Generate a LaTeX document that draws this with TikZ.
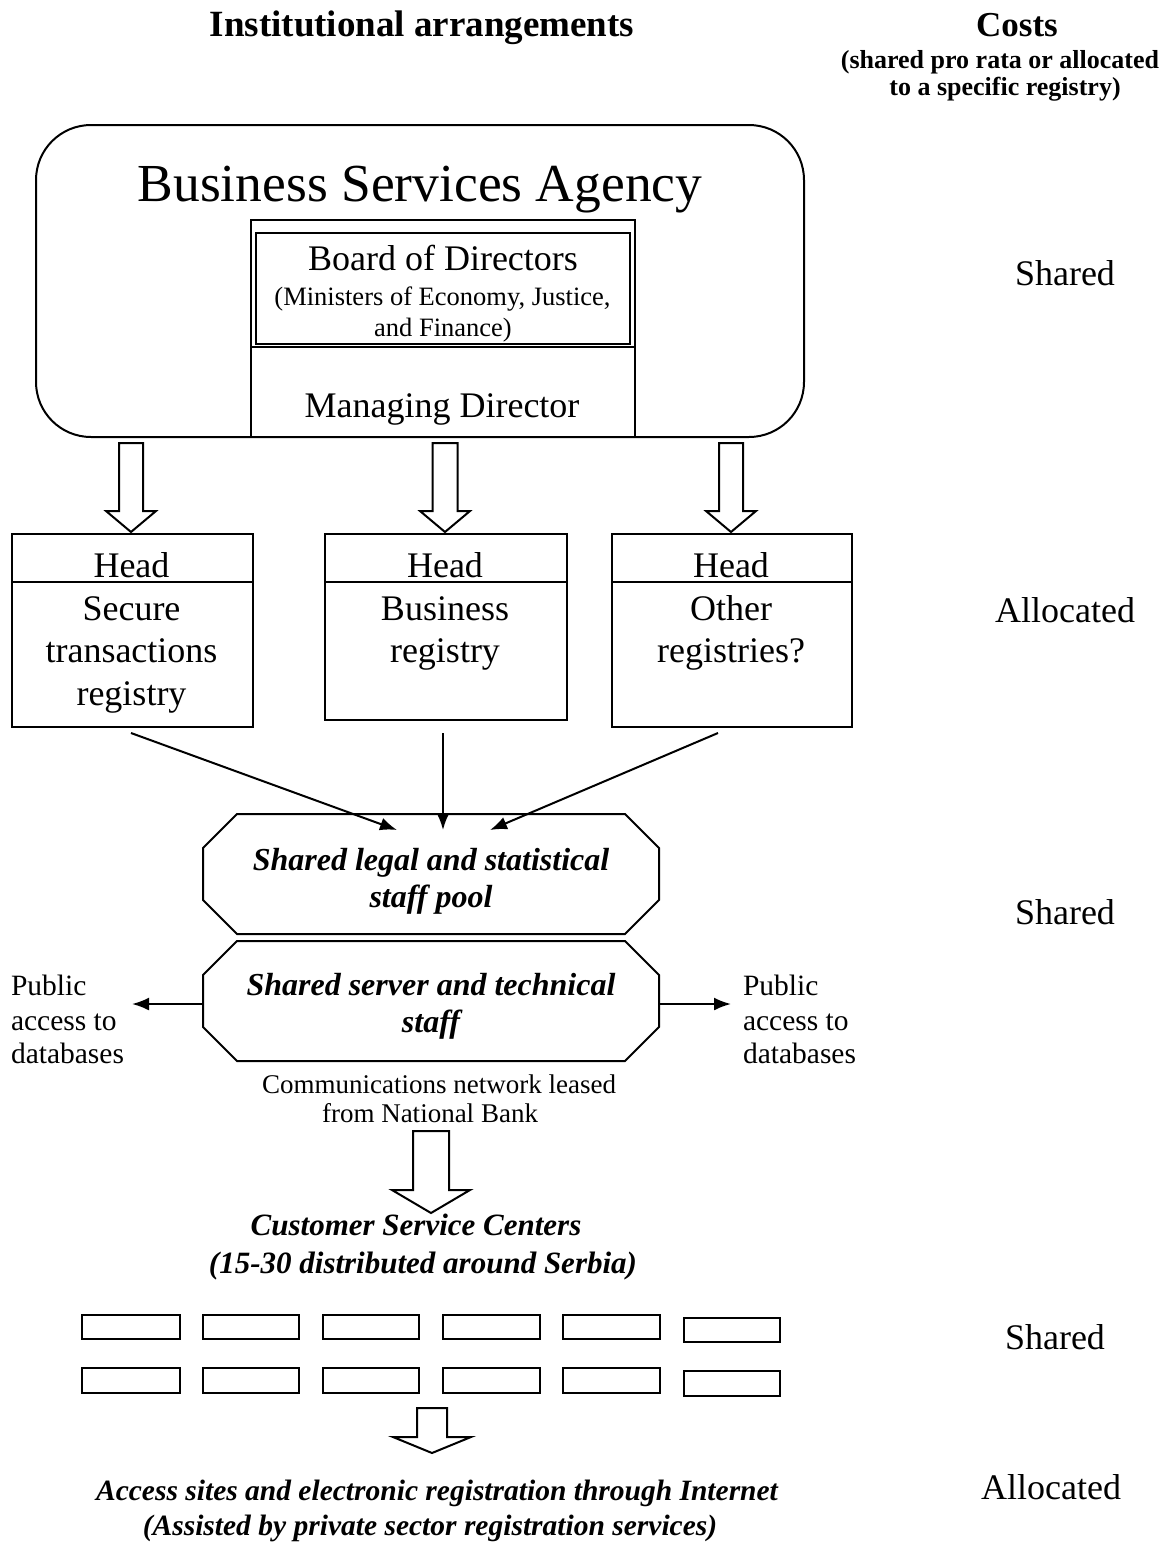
\documentclass[tikz,border=0pt]{standalone}
\usepackage{fontspec}
\setmainfont{Liberation Serif}
\usetikzlibrary{arrows.meta}
\newcommand{\fsz}[1]{\fontsize{#1}{#1}\selectfont}
\newcommand{\blockarr}[6]{% cx, shaft half, head half, top, base, tip
  \draw[blockarrow] (#1-#2,#4) -- (#1+#2,#4) -- (#1+#2,#5) -- (#1+#3,#5) -- (#1,#6) -- (#1-#3,#5) -- (#1-#2,#5) -- cycle;}
\newcommand{\octa}[5]{% x1 y1 x2 y2 cut
  \draw[line width=2pt,fill=white] (#1+#5,#2) -- (#3-#5,#2) -- (#3,#2+#5) -- (#3,#4-#5) -- (#3-#5,#4) -- (#1+#5,#4) -- (#1,#4-#5) -- (#1,#2+#5) -- cycle;}
\begin{document}
\begin{tikzpicture}[x=1pt,y=-1pt,line width=2pt,
  txt/.style={inner sep=0pt,anchor=base},
  boxline/.style={draw,line width=2pt},
  blockarrow/.style={draw,line width=2pt,fill=white,line join=miter},
  conn/.style={line width=2pt,-{Latex[length=17pt,width=13pt]}},
  costtxt/.style={txt,font=\fsz{36}},
  boxtxt/.style={txt,font=\fsz{36}},
  octtxt/.style={txt,font=\fsz{32}\bfseries\itshape},
]
\useasboundingbox (0,0) rectangle (1171,1543);
\fill[white] (0,0) rectangle (1171,1543);

% headings
\node[txt,font=\fsz{37}\bfseries] (title) at (422,36) {Institutional arrangements};
\node[txt,font=\fsz{35}\bfseries] (costs) at (1017,36) {Costs};
\node[txt,font=\fsz{26}\bfseries] (costs1) at (1000,68) {(shared pro rata or allocated};
\node[txt,font=\fsz{26}\bfseries] (costs2) at (1005,95) {to a specific registry)};

% agency
\draw[boxline,rounded corners=55pt] (36,125) rectangle (804,437);
\node[txt,font=\fsz{53.5}] (bsa) at (420,201) {Business Services Agency};
\draw[boxline] (251,220) rectangle (635,437);
\draw[line width=1.8pt] (256,233) rectangle (630,344);
\draw[line width=1.8pt] (251,347) -- (635,347);
\node[txt,font=\fsz{36}] (board) at (443,270) {Board of Directors};
\node[txt,font=\fsz{26.5}] (min1) at (442.5,305) {(Ministers of Economy, Justice,};
\node[txt,font=\fsz{26.5}] (min2) at (443,336) {and Finance)};
\node[txt,font=\fsz{36}] (md) at (442,417) {Managing Director};

% block arrows
\blockarr{131}{12}{25}{443}{511}{532}
\blockarr{445}{12.5}{25}{443}{511}{532}
\blockarr{731}{12}{25}{443}{511}{532}

% registries
\node[boxline,anchor=north west,minimum width=241pt,minimum height=193pt,inner sep=0pt] (reg1) at (11,533) {};
\node[boxline,anchor=north west,minimum width=242pt,minimum height=186pt,inner sep=0pt] (reg2) at (324,533) {};
\node[boxline,anchor=north west,minimum width=240pt,minimum height=193pt,inner sep=0pt] (reg3) at (611,533) {};
\draw[line width=2pt] (reg1.west |- 0,582) -- (reg1.east |- 0,582);
\draw[line width=2pt] (reg2.west |- 0,582) -- (reg2.east |- 0,582);
\draw[line width=2pt] (reg3.west |- 0,582) -- (reg3.east |- 0,582);
\node[boxtxt] (h1) at (131.5,577) {Head};
\node[boxtxt] (h2) at (445,577) {Head};
\node[boxtxt] (h3) at (731,577) {Head};
\node[boxtxt] (r1a) at (131.5,620) {Secure};
\node[boxtxt] (r1b) at (131.5,662) {transactions};
\node[boxtxt] (r1c) at (131.5,705) {registry};
\node[boxtxt] (r2a) at (445,620) {Business};
\node[boxtxt] (r2b) at (445,662) {registry};
\node[boxtxt] (r3a) at (731,620) {Other};
\node[boxtxt] (r3b) at (731,662) {registries?};

% octagons
\octa{203}{814}{659}{934}{34}
\octa{203}{941}{659}{1061}{34}
\coordinate (srvL) at (203,1004);
\coordinate (srvR) at (659,1004);
\node[octtxt] (o1a) at (431,870) {Shared legal and statistical};
\node[octtxt] (o1b) at (431,907) {staff pool};
\node[octtxt] (o2a) at (431,995) {Shared server and technical};
\node[octtxt] (o2b) at (431,1032) {staff};

% connectors to pool
\coordinate (c1s) at (131,733);
\coordinate (c1e) at (397,830);
\coordinate (c2s) at (443,733);
\coordinate (c2e) at (443,830);
\coordinate (c3s) at (718,733);
\coordinate (c3e) at (490,830);
\draw[conn] (c1s) -- (c1e);
\draw[conn] (c2s) -- (c2e);
\draw[conn] (c3s) -- (c3e);

% public access
\coordinate (pubLt) at (132,1004);
\coordinate (pubRt) at (731,1004);
\draw[conn] (srvL) -- (pubLt);
\draw[conn] (srvR) -- (pubRt);
\node[txt,anchor=base west,font=\fsz{29.5}] (pl1) at (10,995) {Public};
\node[txt,anchor=base west,font=\fsz{29.5}] (pl2) at (10,1030) {access to};
\node[txt,anchor=base west,font=\fsz{29.5}] (pl3) at (10,1063) {databases};
\node[txt,anchor=base west,font=\fsz{29.5}] (pr1) at (742,995) {Public};
\node[txt,anchor=base west,font=\fsz{29.5}] (pr2) at (742,1030) {access to};
\node[txt,anchor=base west,font=\fsz{29.5}] (pr3) at (742,1063) {databases};

% communications
\node[txt,font=\fsz{27}] (com1) at (439,1093) {Communications network leased};
\node[txt,font=\fsz{27}] (com2) at (430,1122) {from National Bank};
\blockarr{431}{18}{39}{1131}{1190}{1213}

% customer service centres
\node[txt,font=\fsz{31}\bfseries\itshape] (csc1) at (416,1235) {Customer Service Centers};
\node[txt,font=\fsz{31}\bfseries\itshape] (csc2) at (423,1273) {(15-30 distributed around Serbia)};
\foreach \xa/\xb in {82/180,203/299,323/419,443/540,563/660}{
  \draw[line width=2.2pt] (\xa,1315) rectangle (\xb,1339);
  \draw[line width=2.2pt] (\xa,1368) rectangle (\xb,1393);
}
\draw[line width=2.2pt] (684,1318) rectangle (780,1342);
\draw[line width=2.2pt] (684,1371) rectangle (780,1396);
\blockarr{432}{15}{39}{1408}{1437}{1453}

\node[txt,font=\fsz{29.5}\bfseries\itshape] (acc1) at (437,1500) {Access sites and electronic registration through Internet};
\node[txt,font=\fsz{29.5}\bfseries\itshape] (acc2) at (430,1535) {(Assisted by private sector registration services)};

% cost column
\node[costtxt] (k1) at (1065,285) {Shared};
\node[costtxt] (k2) at (1065,622) {Allocated};
\node[costtxt] (k3) at (1065,924) {Shared};
\node[costtxt] (k4) at (1055,1349) {Shared};
\node[costtxt] (k5) at (1051,1499) {Allocated};
\end{tikzpicture}
\end{document}
